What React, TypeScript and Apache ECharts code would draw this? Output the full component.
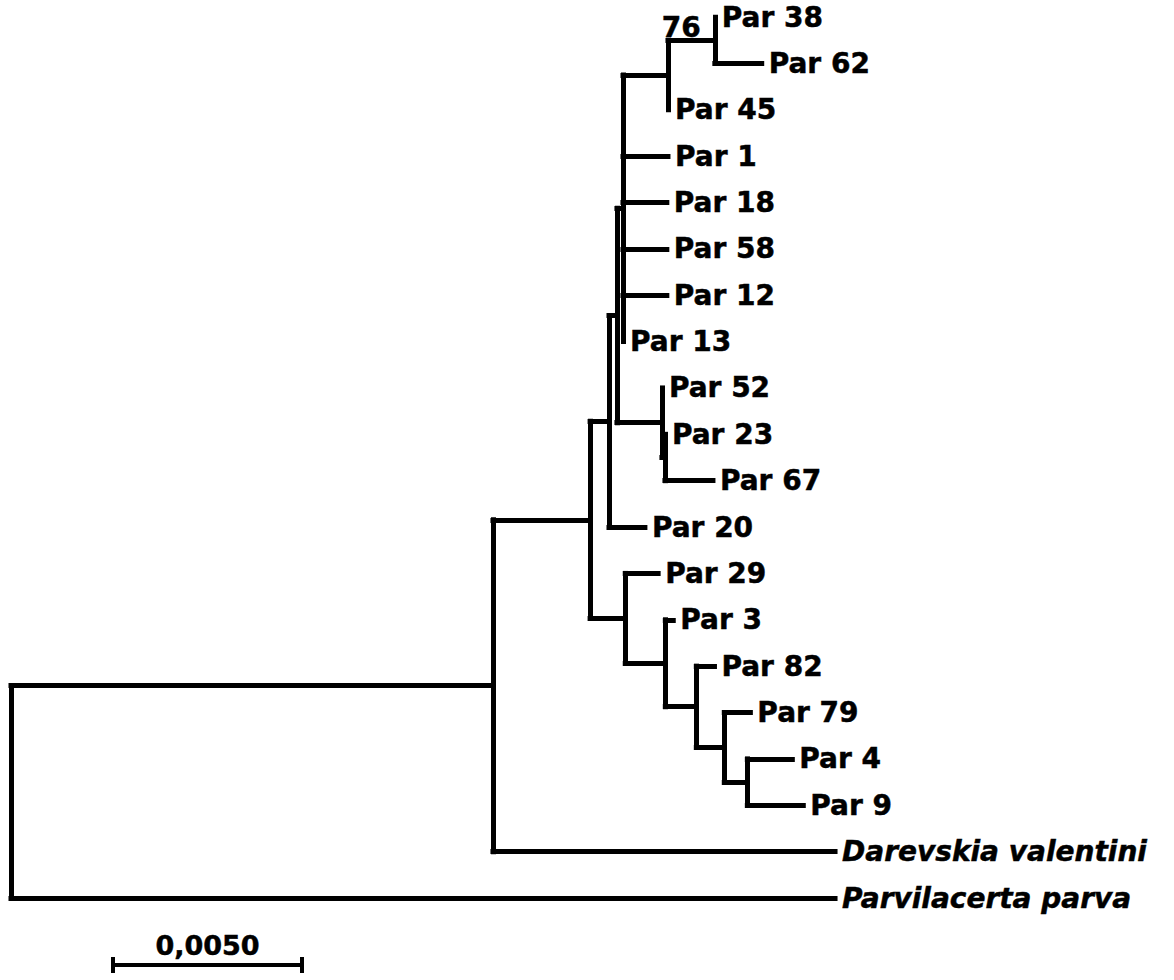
import React, { useEffect, useRef } from "react";
import * as echarts from "echarts";

// Leaf order top to bottom
const leafOrder: string[] = [
  "Par 38", "Par 62", "Par 45", "Par 1", "Par 18", "Par 58", "Par 12", "Par 13",
  "Par 52", "Par 23", "Par 67", "Par 20", "Par 29", "Par 3", "Par 82", "Par 79",
  "Par 4", "Par 9", "Darevskia valentini", "Parvilacerta parva",
];

// Branches: [parent, child, branch length]
const branches: [string, string, number][] = [
  ["root", "n1", 0.01275],
  ["root", "Parvilacerta parva", 0.0218],
  ["n1", "n2", 0.00257],
  ["n1", "Darevskia valentini", 0.00905],
  ["n2", "n3", 0.0005],
  ["n2", "n9", 0.00093],
  ["n3", "n4", 0.00021],
  ["n3", "Par 20", 0.00095],
  ["n4", "n5", 0.00016],
  ["n4", "n7", 0.00119],
  ["n5", "n6", 0.00119],
  ["n5", "Par 1", 0.00119],
  ["n5", "Par 18", 0.00116],
  ["n5", "Par 58", 0.00116],
  ["n5", "Par 12", 0.00116],
  ["n5", "Par 13", 0],
  ["n6", "n6b", 0.00124],
  ["n6", "Par 45", 0],
  ["n6b", "Par 38", 0],
  ["n6b", "Par 62", 0.00124],
  ["n7", "Par 52", 0],
  ["n7", "n8", 0.00008],
  ["n8", "Par 23", 0],
  ["n8", "Par 67", 0.00127],
  ["n9", "Par 29", 0.00087],
  ["n9", "n10", 0.00106],
  ["n10", "Par 3", 0.00021],
  ["n10", "n11", 0.00082],
  ["n11", "Par 82", 0.00048],
  ["n11", "n12", 0.00074],
  ["n12", "Par 79", 0.00069],
  ["n12", "n13", 0.00061],
  ["n13", "Par 4", 0.00119],
  ["n13", "Par 9", 0.00148],
];

// Bootstrap support values: [node, label]
const bootstrap: [string, string][] = [["n6b", "76"]];

const italicLeaves: string[] = ["Darevskia valentini", "Parvilacerta parva"];

const scaleBarLength = 0.005;
const scaleBarStart = 0.0027;
const scaleBarLabel = "0,0050";

const FONT = "DejaVu Sans";

export default function App() {
  const ref = useRef<HTMLDivElement>(null);

  useEffect(() => {
    if (!ref.current) return;
    const chart = echarts.init(ref.current, null, { renderer: "svg" });

    const children: Record<string, [string, number][]> = {};
    branches.forEach(([p, c, l]) => {
      (children[p] = children[p] || []).push([c, l]);
    });
    const xPos: Record<string, number> = { root: 0 };
    const yPos: Record<string, number> = {};
    const setX = (n: string) => {
      (children[n] || []).forEach(([c, l]) => {
        xPos[c] = xPos[n] + l;
        setX(c);
      });
    };
    setX("root");
    const setY = (n: string): number => {
      if (!children[n]) {
        yPos[n] = leafOrder.indexOf(n);
        return yPos[n];
      }
      const ys = children[n].map(([c]) => setY(c));
      yPos[n] = (Math.min(...ys) + Math.max(...ys)) / 2;
      return yPos[n];
    };
    setY("root");

    // horizontal branches
    const segs: { coords: number[][] }[] = branches.map(([p, c]) => ({
      coords: [
        [xPos[p], yPos[c]],
        [xPos[c], yPos[c]],
      ],
    }));
    // vertical connectors for each internal node
    Object.keys(children).forEach((n) => {
      const ys = children[n].map(([c]) => yPos[c]);
      segs.push({
        coords: [
          [xPos[n], Math.min(...ys)],
          [xPos[n], Math.max(...ys)],
        ],
      });
    });

    const leafData = leafOrder.map((name) => ({
      value: [xPos[name], yPos[name]],
      name,
      label: {
        fontStyle: italicLeaves.includes(name) ? "italic" : "normal",
      },
    }));

    const bootData = bootstrap.map(([n, t]) => ({
      value: [xPos[n], yPos[n]],
      name: t,
    }));

    const top = 17;
    const rowH = (898 - top) / 19;
    const yMax = 20.7;
    const barY = (965 - top) / rowH;
    const tickH = 8 / rowH;
    const sEnd = scaleBarStart + scaleBarLength;
    const scaleSegs = [
      { coords: [[scaleBarStart, barY], [sEnd, barY]] },
      { coords: [[scaleBarStart, barY - tickH], [scaleBarStart, barY + tickH]] },
      { coords: [[sEnd, barY - tickH], [sEnd, barY + tickH]] },
    ];

    const textStyle = {
      fontFamily: FONT,
      fontWeight: "bold",
      color: "#000000",
      opacity: 1,
      lineHeight: 28,
      textBorderColor: "#000000",
      textBorderWidth: 0.5,
    };
    const noSymbol = { opacity: 1, color: "#000" };

    chart.setOption({
      animation: false,
      backgroundColor: "#ffffff",
      grid: { left: 11, top, width: 0.028 * 37800, height: rowH * yMax },
      xAxis: { type: "value", min: 0, max: 0.028, show: false },
      yAxis: { type: "value", min: 0, max: yMax, inverse: true, show: false },
      series: [
        {
          type: "lines",
          coordinateSystem: "cartesian2d",
          polyline: false,
          data: segs,
          lineStyle: { color: "#000", width: 5, opacity: 1, cap: "square" },
          silent: true,
        },
        {
          type: "lines",
          coordinateSystem: "cartesian2d",
          data: scaleSegs,
          lineStyle: { color: "#000", width: 4, opacity: 1, cap: "butt" },
          silent: true,
        },
        {
          type: "scatter",
          data: leafData,
          symbolSize: 0,
          itemStyle: noSymbol,
          label: {
            show: true,
            position: "right",
            distance: 7,
            formatter: (p: any) => p.name,
            fontSize: 28,
            ...textStyle,
          },
          silent: true,
        },
        {
          type: "scatter",
          data: bootData,
          symbolSize: 0,
          itemStyle: noSymbol,
          label: {
            show: true,
            position: "left",
            distance: 14,
            offset: [0, -13],
            formatter: (p: any) => p.name,
            fontSize: 28,
            ...textStyle,
          },
          silent: true,
        },
        {
          type: "scatter",
          data: [{ value: [scaleBarStart + scaleBarLength / 2, barY], name: scaleBarLabel }],
          symbolSize: 0,
          itemStyle: noSymbol,
          label: {
            show: true,
            position: "top",
            distance: 6,
            formatter: (p: any) => p.name,
            fontSize: 27,
            ...textStyle,
          },
          silent: true,
        },
      ],
    });

    return () => chart.dispose();
  }, []);

  return (
    <div
      ref={ref}
      style={{ position: "absolute", left: 0, top: 0, width: 1174, height: 980, background: "#fff" }}
    />
  );
}
